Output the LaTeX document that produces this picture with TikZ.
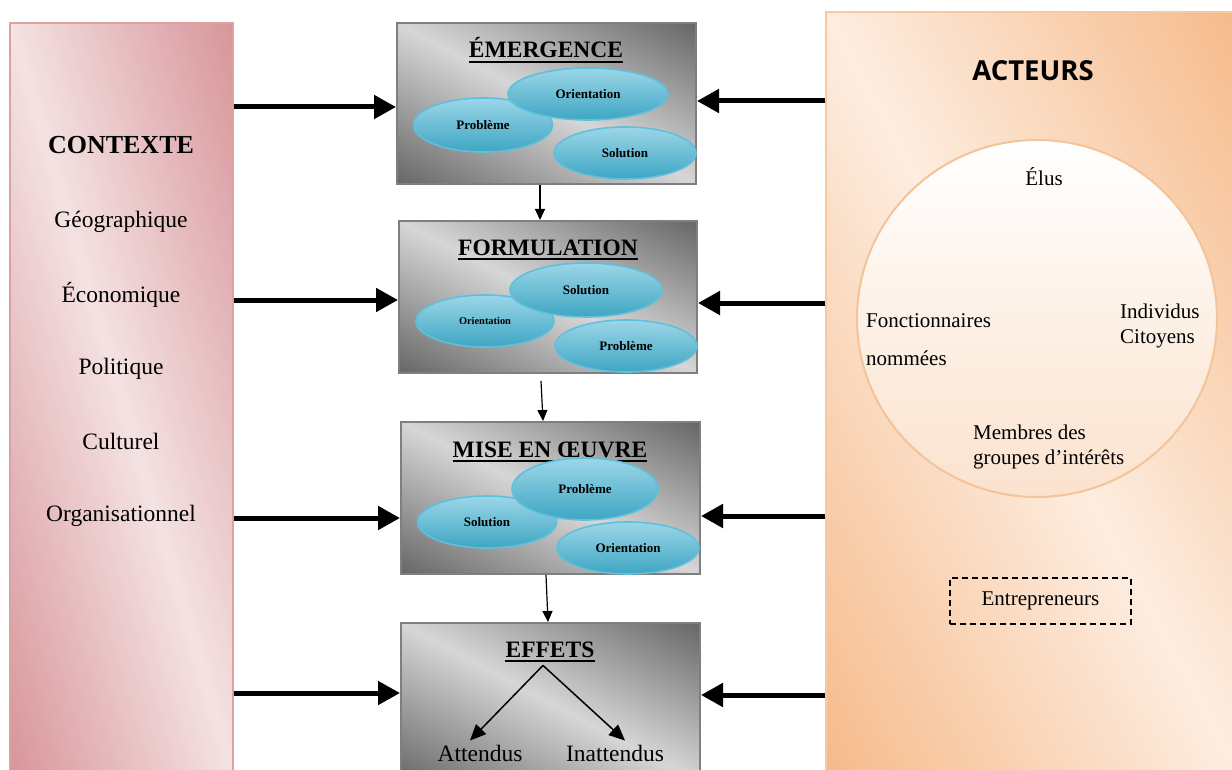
\documentclass[tikz,border=0pt]{standalone}
\usepackage{fontspec}
\setmainfont{Liberation Serif}
\newfontfamily\headfont{Open Sans}
\usetikzlibrary{arrows.meta,shapes.geometric}

% Diagonal two-tone shadings: dark in the top-right and bottom-left corners,
% light along the diagonal from top-left to bottom-right (s = distance from it).
\pgfdeclarefunctionalshading{diaggray}{\pgfpoint{0bp}{0bp}}{\pgfpoint{100bp}{100bp}}{}{
  add 100 sub 50 div abs dup dup 1 sub abs sub 1 add 2 div
  dup -0.44 mul 0.84 add exch
  dup -0.44 mul 0.84 add exch
  -0.44 mul 0.84 add
}
\pgfdeclarefunctionalshading{diagctx}{\pgfpoint{0bp}{0bp}}{\pgfpoint{100bp}{100bp}}{}{
  add 100 sub 50 div abs dup dup 1 sub abs sub 1 add 2 div
  dup -0.110 mul 0.957 add exch
  dup -0.302 mul 0.886 add exch
  -0.282 mul 0.886 add
}
\pgfdeclarefunctionalshading{diagact}{\pgfpoint{0bp}{0bp}}{\pgfpoint{100bp}{100bp}}{}{
  add 100 sub 50 div abs dup dup 1 sub abs sub 1 add 2 div
  dup -0.027 mul 0.992 add exch
  dup -0.200 mul 0.929 add exch
  -0.337 mul 0.878 add
}

\definecolor{boxline}{HTML}{7F7F7F}
\definecolor{ctxline}{HTML}{D9A3A3}
\definecolor{actline}{HTML}{F7C9A3}
\definecolor{ovtop}{HTML}{9CD6E8}
\definecolor{ovbot}{HTML}{3EA6C3}
\definecolor{ovline}{HTML}{5EC0DA}
\definecolor{circline}{HTML}{F5C398}
\definecolor{circbot}{HTML}{FBE2CE}

\tikzset{
  stage/.style={rectangle, draw=boxline, line width=2pt, inner sep=0pt, shade, shading=diaggray},
  panelctx/.style={rectangle, draw=ctxline, line width=1.5pt, inner sep=0pt, shade, shading=diagctx},
  panelact/.style={rectangle, draw=actline, line width=1.5pt, inner sep=0pt, shade, shading=diagact},
  bubble/.style={ellipse, draw=ovline, line width=1.6pt, inner sep=0pt,
    top color=ovtop, bottom color=ovbot, font=\bfseries\fontsize{13}{15}\selectfont},
  stagetitle/.style={font=\bfseries\fontsize{23.5}{28}\selectfont, inner sep=0pt, anchor=base},
  ctxitem/.style={font=\fontsize{23.5}{28}\selectfont, inner sep=0pt},
  actitem/.style={font=\fontsize{21}{25}\selectfont, inner sep=0pt, anchor=west, align=left},
  bigarrow/.style={line width=5pt, -{Triangle[length=22pt,width=23pt]}},
  flow/.style={line width=1.2pt, -{Triangle[length=11pt,width=10pt]}},
  effarrow/.style={line width=1.5pt, -{Triangle[length=16pt,width=14pt]}},
  uline/.style={line width=2.5pt}
}

\begin{document}
\begin{tikzpicture}[x=1pt,y=-1pt]
\useasboundingbox (0,0) rectangle (1232,770);
\clip (0,0) rectangle (1232,770);

% side panels
\node[panelctx, minimum width=223pt, minimum height=752pt] (ctx) at (121.5,399) {};
\node[panelact, minimum width=414pt, minimum height=763pt] (act) at (1033,393.5) {};

% context list
\node[font=\bfseries\fontsize{26}{30}\selectfont, inner sep=0pt] (ctxt) at (121,145) {CONTEXTE};
\node[ctxitem] (geo) at (121,222) {Géographique};
\node[ctxitem] (eco) at (121,295) {Économique};
\node[ctxitem] (pol) at (121,369) {Politique};
\node[ctxitem] (cul) at (121,441) {Culturel};
\node[ctxitem] (org) at (121,516) {Organisationnel};

% actors
\node[font=\headfont\bfseries\fontsize{27.5}{32}\selectfont, inner sep=0pt] (actt) at (1033,71) {ACTEURS};
\node[ellipse, draw=circline, line width=2pt, top color=white, bottom color=circbot,
      minimum width=360pt, minimum height=357pt, inner sep=0pt] (ring) at (1037,318.5) {};
\node[font=\fontsize{21}{25}\selectfont, inner sep=0pt] (elus) at (1044,177) {Élus};
\node[actitem] (fonc) at (866,321) {Fonctionnaires};
\node[actitem] (nomm) at (866,358) {nommées};
\node[actitem] (indiv) at (1120,326) {Individus\\Citoyens};
\node[actitem] (memb) at (973,447) {Membres des\\groupes d’intérêts};
\node[draw, line width=1.3pt, dash pattern=on 6pt off 4pt, minimum width=181pt, minimum height=46pt,
      font=\fontsize{21}{25}\selectfont] (entr) at (1040.5,601) {Entrepreneurs};

% stage boxes
\node[stage, minimum width=299pt, minimum height=161pt] (em) at (546.5,103.5) {};
\node[stage, minimum width=298pt, minimum height=152pt] (fo) at (548,297) {};
\node[stage, minimum width=299pt, minimum height=152pt] (mo) at (550.5,498) {};
\node[stage, minimum width=299pt, minimum height=160pt] (ef) at (550.5,703) {};

% emergence
\node[stagetitle] (tem) at (546,58) {ÉMERGENCE};
\draw[uline] ([yshift=-4pt]tem.base west) -- ([yshift=-4pt]tem.base east);
\node[bubble, minimum width=139pt, minimum height=54pt] (em1) at (483,125) {Problème};
\node[bubble, minimum width=160pt, minimum height=52pt] (em2) at (588,94) {Orientation};
\node[bubble, minimum width=142pt, minimum height=52pt] (em3) at (625,153) {Solution};

% formulation
\node[stagetitle] (tfo) at (548,255) {FORMULATION};
\draw[uline] ([yshift=-4pt]tfo.base west) -- ([yshift=-4pt]tfo.base east);
\node[bubble, minimum width=138pt, minimum height=52pt, font=\bfseries\fontsize{10.4}{12}\selectfont] (fo1) at (485,321) {Orientation};
\node[bubble, minimum width=152pt, minimum height=54pt] (fo2) at (586,290) {Solution};
\node[bubble, minimum width=142pt, minimum height=52pt] (fo3) at (626,346) {Problème};

% mise en oeuvre
\node[stagetitle] (tmo) at (550,457) {MISE EN ŒUVRE};
\draw[uline] ([yshift=-4pt]tmo.base west) -- ([yshift=-4pt]tmo.base east);
\node[bubble, minimum width=139pt, minimum height=52pt] (mo1) at (487,522) {Solution};
\node[bubble, minimum width=146pt, minimum height=62pt] (mo2) at (585,489) {Problème};
\node[bubble, minimum width=142pt, minimum height=52pt] (mo3) at (628,548) {Orientation};

% effets
\node[stagetitle] (tef) at (550,657) {EFFETS};
\draw[uline] ([yshift=-4pt]tef.base west) -- ([yshift=-4pt]tef.base east);
\node[ctxitem] (att) at (480,753) {Attendus};
\node[ctxitem] (inat) at (615,753) {Inattendus};
\draw[effarrow] ([xshift=-7pt,yshift=-8pt]tef.south) -- ([xshift=-10pt,yshift=4pt]att.north);
\draw[effarrow] ([xshift=-7pt,yshift=-8pt]tef.south) -- ([xshift=10pt,yshift=4pt]inat.north);

% flow between stages
\draw[flow] ([xshift=-6.5pt]em.south) -- ([xshift=-8pt]fo.north);
\draw[flow] ([xshift=-7pt,yshift=-7pt]fo.south) -- ([xshift=-7.5pt]mo.north);
\draw[flow] ([xshift=-4.5pt]mo.south) -- ([xshift=-2.5pt]ef.north);

% context influences
\draw[bigarrow] (ctx.east |- 0,107) -- (em.west |- 0,107);
\draw[bigarrow] (ctx.east |- 0,300) -- (fo.west |- 0,300);
\draw[bigarrow] (ctx.east |- 0,518) -- (mo.west |- 0,518);
\draw[bigarrow] (ctx.east |- 0,693) -- (ef.west |- 0,693);

% actor influences
\draw[bigarrow] (act.west |- 0,101) -- (em.east |- 0,101);
\draw[bigarrow] (act.west |- 0,303) -- (fo.east |- 0,303);
\draw[bigarrow] (act.west |- 0,516) -- (mo.east |- 0,516);
\draw[bigarrow] (act.west |- 0,695) -- (ef.east |- 0,695);
\end{tikzpicture}
\end{document}
